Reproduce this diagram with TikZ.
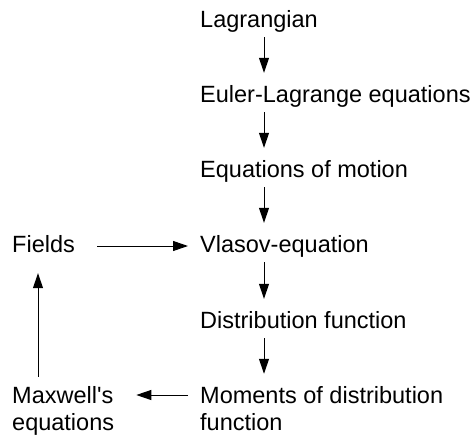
\documentclass[tikz,border=0pt]{standalone}
\usepackage{fontspec}
\setmainfont{Liberation Sans}[Ligatures=TeXOff]
\usetikzlibrary{arrows.meta}
\begin{document}
\begin{tikzpicture}[x=1pt,y=-1pt,
 lbl/.style={anchor=base west, inner sep=0pt, font=\fontsize{23.5}{27}\selectfont},
 one/.style={lbl, text height=17pt, text depth=5pt},
 two/.style={lbl, align=left},
 arr/.style={-{Triangle[length=15pt,width=10pt]}, line width=1pt}]
\useasboundingbox (0,0) rectangle (476,434);
\node[one] (lag) at (200,27) {Lagrangian};
\node[one] (eul) at (200,102) {Euler-Lagrange equations};
\node[one] (eom) at (200,177) {Equations of motion};
\node[one] (vla) at (200,252) {Vlasov-equation};
\node[one] (dis) at (200,328) {Distribution function};
\node[two] (mom) at (200,430) {Moments of distribution\\function};
\node[one] (fie) at (12,252) {Fields};
\node[two] (max) at (12,430) {Maxwell's\\equations};
\foreach \a/\b in {lag/eul,eul/eom,eom/vla,vla/dis,dis/mom}
  \draw[arr, shorten <=5pt, shorten >=12pt] ([xshift=64pt]\a.south west) -- ([xshift=64pt]\b.north west);
\draw[arr, shorten <=22pt, shorten >=12pt] (fie.east) -- (vla.west);
\draw[arr, shorten <=12pt, shorten >=22pt] ([yshift=35pt]mom.base west) -- ([yshift=35pt]max.base east);
\draw[arr, shorten <=9pt, shorten >=16pt] ([xshift=26pt]max.north west) -- ([xshift=26pt]fie.south west);
\end{tikzpicture}
\end{document}
